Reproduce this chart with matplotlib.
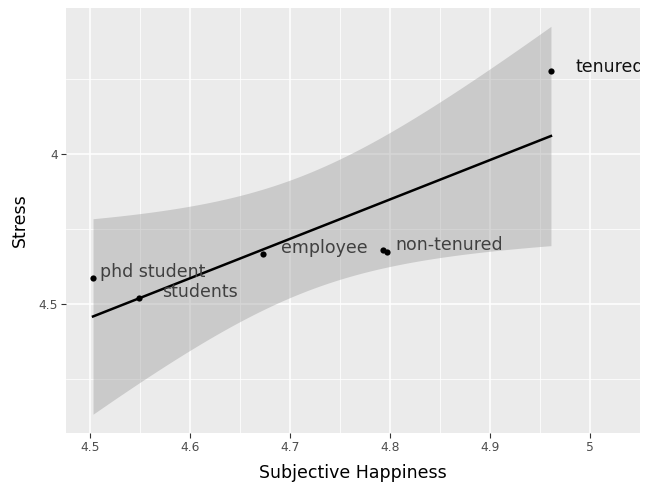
import matplotlib
matplotlib.use("Agg")
import matplotlib.pyplot as plt
import numpy as np

# group means
groups    = ["phd student", "students", "employee", "non-tenured", "", "tenured"]
happiness = [4.503, 4.549, 4.673, 4.793, 4.797, 4.961]
stress    = [4.413, 4.480, 4.333, 4.320, 4.327, 3.723]

x_ticks = [4.5, 4.6, 4.7, 4.8, 4.9, 5.0]
x_tick_labels = ["4.5", "4.6", "4.7", "4.8", "4.9", "5"]
y_ticks = [4.0, 4.5]
y_tick_labels = ["4", "4.5"]

# label offsets in pixels (dx, dy) and colours
label_offsets = [(7, 6), (23, 6), (18, 6), (12, 5), (0, 0), (25, 4)]
label_colors = ["#404040", "#404040", "#404040", "#404040", "#404040", "#111111"]

PANEL_BG = "#EBEBEB"
TICK_C = "#4D4D4D"

x = np.array(happiness)
y = np.array(stress)
n = len(x)

# linear fit with 95% confidence band (like geom_smooth(method="lm"))
slope, intercept = np.polyfit(x, y, 1)
resid = y - (slope * x + intercept)
s = np.sqrt(np.sum(resid ** 2) / (n - 2))
sxx = np.sum((x - x.mean()) ** 2)
T975 = 2.776  # t quantile, df = 4
xs = np.linspace(x.min(), x.max(), 200)
ys = slope * xs + intercept
se = s * np.sqrt(1 / n + (xs - x.mean()) ** 2 / sxx)

fig = plt.figure(figsize=(6.55, 4.88), dpi=100)
ax = fig.add_axes([0.1008, 0.1127, 0.8762, 0.8709])
ax.set_facecolor(PANEL_BG)
for sp in ax.spines.values():
    sp.set_visible(False)

ax.set_xlim(4.476, 5.047)
ax.set_ylim(4.93, 3.513)

ax.set_xticks(x_ticks)
ax.set_xticklabels(x_tick_labels)
ax.set_xticks([4.55, 4.65, 4.75, 4.85, 4.95, 5.05], minor=True)
ax.set_yticks(y_ticks)
ax.set_yticklabels(y_tick_labels)
ax.set_yticks([3.75, 4.25, 4.75], minor=True)

ax.grid(which="major", color="white", linewidth=1.1)
ax.grid(which="minor", color="white", linewidth=0.55)
ax.set_axisbelow(True)
ax.tick_params(which="major", length=3.5, width=0.8, color="#333333",
               labelsize=8.8, labelcolor=TICK_C, pad=2.5)
ax.tick_params(which="minor", length=0)

ax.fill_between(xs, ys - T975 * se, ys + T975 * se, color="#999999",
                alpha=0.4, linewidth=0, zorder=2)
ax.plot(xs, ys, color="black", linewidth=1.8, zorder=3)
ax.scatter(x, y, s=20, color="black", zorder=4, linewidths=0)

for gx, gy, name, (dx, dy), c in zip(x, y, groups, label_offsets, label_colors):
    if not name:
        continue
    t = ax.annotate(name, (gx, gy), xytext=(dx, dy), textcoords="offset pixels",
                    ha="left", va="center", fontsize=12.5, color=c, zorder=5)
    t.set_clip_path(ax.patch)  # panel clips labels, as in the original

ax.set_xlabel("Subjective Happiness", fontsize=12.5, labelpad=7)
ax.set_ylabel("Stress", fontsize=12.5, labelpad=7)

fig.savefig("out.png", dpi=100)
